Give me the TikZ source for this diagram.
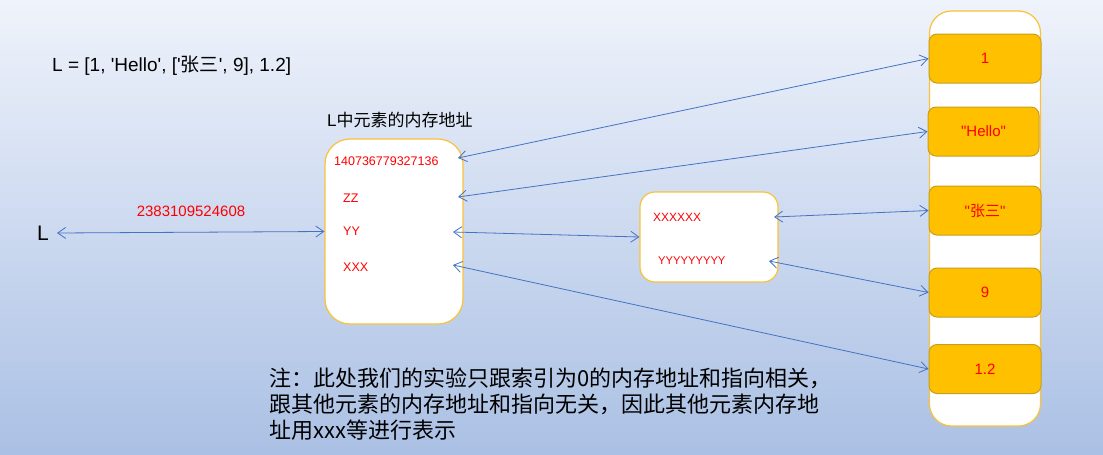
\documentclass[tikz,border=0pt]{standalone}
\usepackage{fontspec}
\setmainfont{Liberation Sans}[Ligatures=TeXOff]
\newfontfamily\cjk{Noto Sans CJK SC}
\usetikzlibrary{arrows.meta}
\definecolor{arrowblue}{HTML}{4472C4}
\definecolor{boxedge}{HTML}{F8C23A}
\definecolor{goldfill}{HTML}{FFC000}
\definecolor{goldedge}{HTML}{C89E1E}
\definecolor{bgtop}{HTML}{EFF3FB}
\definecolor{bgbot}{HTML}{AAC0E4}
\definecolor{redtext}{HTML}{FF0000}
\tikzset{
  membox/.style={draw=boxedge, line width=1.2pt, fill=white, rectangle, inner sep=0pt},
  goldbox/.style={draw=goldedge, line width=1pt, fill=goldfill, rectangle, rounded corners=8pt,
    minimum width=112pt, minimum height=49pt, inner sep=0pt, text=redtext,
    font=\fontsize{15}{18}\selectfont},
  redlbl/.style={text=redtext, inner sep=0pt, anchor=west},
  plain/.style={inner sep=0pt, text=black},
  link/.style={draw=arrowblue, line width=0.8pt, {Straight Barb[length=8pt,width=11pt]}-{Straight Barb[length=8pt,width=11pt]}},
}
\begin{document}
\begin{tikzpicture}[x=1pt,y=-1pt]
\shade[top color=bgtop,bottom color=bgbot] (0,0) rectangle (1103,455);
\useasboundingbox (0,0) rectangle (1103,455);

% title line
\node[plain, anchor=west, font=\fontsize{19}{22}\selectfont] (code) at (52,66)
  {L = [1, 'Hello', ['{\cjk 张三}', 9], 1.2]};
\node[plain, anchor=west, font=\fontsize{17}{20}\selectfont] (caption) at (327,120)
  {L{\cjk 中元素的内存地址}};

% left variable
\node[plain, anchor=east, font=\fontsize{21}{24}\selectfont] (L) at (49,233) {L};
\node[redlbl, anchor=center, font=\fontsize{15}{18}\selectfont] (addr) at (191,211) {2383109524608};

% left box
\node[membox, rounded corners=25pt, minimum width=138pt, minimum height=185pt] (lbox) at (394,231.5) {};
\node[redlbl, font=\fontsize{12.5}{15}\selectfont] (t0) at (334,161) {140736779327136};
\node[redlbl, font=\fontsize{12.5}{15}\selectfont] (t1) at (343,198) {ZZ};
\node[redlbl, font=\fontsize{12.5}{15}\selectfont] (t2) at (343,231) {YY};
\node[redlbl, font=\fontsize{12.5}{15}\selectfont] (t3) at (343,267) {XXX};

% middle box
\node[membox, rounded corners=15pt, minimum width=138pt, minimum height=90pt] (mbox) at (709,237) {};
\node[redlbl, font=\fontsize{12}{14}\selectfont] (m0) at (653,217) {XXXXXX};
\node[redlbl, font=\fontsize{11.2}{14}\selectfont] (m1) at (658,261) {YYYYYYYYY};

% right tall box
\node[membox, rounded corners=22pt, minimum width=111pt, minimum height=415pt] (rbox) at (985,218.5) {};
\node[goldbox] (b1) at (985,58.5) {1};
\node[goldbox, minimum width=111pt] (b2) at (983.5,131.5) {"Hello"};
\node[goldbox] (b3) at (985,210.5) {"{\cjk 张三}"};
\node[goldbox] (b4) at (985,292.5) {9};
\node[goldbox] (b5) at (985,369) {1.2};

% anchor points for connectors
\coordinate (p0) at (458,158);
\coordinate (p1) at (458,197);
\coordinate (p2) at (453,232);
\coordinate (p3) at (453,265);
\coordinate (q0) at (774,217);
\coordinate (q1) at (769,261);

% connectors
\draw[link] ([xshift=8pt]L.east) -- (lbox.west);
\draw[link] (p0) -- (b1.west);
\draw[link] (p1) -- (b2.west);
\draw[link] (p2) -- (mbox.west);
\draw[link] (q0) -- (b3.west);
\draw[link] (q1) -- (b4.west);
\draw[link] (p3) -- (b5.west);

% note
\node[plain, anchor=base west, font=\cjk\fontsize{22}{27}\selectfont] (n1) at (269,386)
  {注：此处我们的实验只跟索引为0的内存地址和指向相关，};
\node[plain, anchor=base west, font=\cjk\fontsize{22}{27}\selectfont] (n2) at (269,412)
  {跟其他元素的内存地址和指向无关，因此其他元素内存地};
\node[plain, anchor=base west, font=\cjk\fontsize{22}{27}\selectfont] (n3) at (269,438)
  {址用xxx等进行表示};
\end{tikzpicture}
\end{document}
